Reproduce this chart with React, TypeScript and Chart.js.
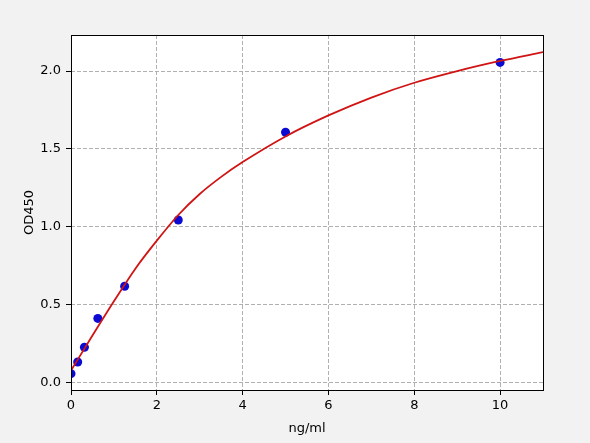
import { useEffect, useRef } from 'react'
import { Chart, registerables } from 'chart.js'

Chart.register(...registerables)

// standard points (concentration ng/ml, OD450)
const stdConc = [0, 0.156, 0.3125, 0.625, 1.25, 2.5, 5, 10]
const stdOD   = [0.055, 0.13, 0.225, 0.41, 0.617, 1.043, 1.607, 2.056]

// fitted curve
const fitX = [0, 0.5, 1, 1.5, 2, 2.5, 3, 3.5, 4, 5, 6, 7, 8, 9, 10, 11]
const fitY = [0.075, 0.3, 0.52, 0.73, 0.91, 1.075, 1.21, 1.32, 1.415, 1.58, 1.715, 1.83, 1.925, 2.0, 2.065, 2.122]

const xTicks = [0, 2, 4, 6, 8, 10]
const yTicks = [0, 0.5, 1, 1.5, 2]

const FONT = 'DejaVu Sans'

// grey page, white plot area + black frame (matplotlib style spines)
const framePlugin = {
  id: 'frame',
  beforeDraw(chart: Chart) {
    const { ctx, chartArea: a } = chart
    ctx.save()
    ctx.fillStyle = '#f2f2f2'
    ctx.fillRect(0, 0, chart.width, chart.height)
    ctx.fillStyle = '#ffffff'
    ctx.fillRect(a.left, a.top, a.right - a.left, a.bottom - a.top)
    ctx.restore()
  },
  afterDraw(chart: Chart) {
    const { ctx, chartArea: a } = chart
    ctx.save()
    ctx.strokeStyle = '#000'
    ctx.lineWidth = 1
    ctx.strokeRect(a.left + 0.5, a.top + 0.5, a.right - a.left, a.bottom - a.top)
    ctx.restore()
  },
}

export default function App() {
  const ref   = useRef<HTMLCanvasElement>(null)
  const chart = useRef<Chart | null>(null)

  useEffect(() => {
    document.body.style.margin = '0'
    document.body.style.background = '#f2f2f2'
    if (!ref.current) return
    chart.current?.destroy()
    const grid = { color: '#b0b0b0', lineWidth: 1, tickColor: '#000', tickLength: 5, tickBorderDash: [] as number[] }
    chart.current = new Chart(ref.current, {
      type: 'scatter',
      data: {
        datasets: [
          {
            type: 'line',
            data: fitX.map((x, i) => ({ x, y: fitY[i] })),
            borderColor: '#d01414', borderWidth: 1.8,
            pointRadius: 0, cubicInterpolationMode: 'monotone', fill: false,
          },
          {
            type: 'scatter',
            data: stdConc.map((x, i) => ({ x, y: stdOD[i] })),
            backgroundColor: '#0a0ad2', borderColor: '#0a0ad2',
            pointRadius: 4.5, borderWidth: 0,
          },
        ],
      },
      options: {
        responsive: false, animation: false, devicePixelRatio: 1,
        layout: { padding: { top: 35, right: 47, left: 0, bottom: 0 } },
        plugins: { legend: { display: false }, tooltip: { enabled: false } },
        scales: {
          x: {
            type: 'linear', min: 0, max: 11,
            afterBuildTicks: ax => { ax.ticks = xTicks.map(value => ({ value })) },
            afterFit: s => { s.height = 53 },
            ticks: { color: '#000', font: { family: FONT, size: 13 }, padding: 3, maxRotation: 0 },
            grid,
            border: { display: false, dash: [4, 2] },
            title: { display: true, text: 'ng/ml', color: '#000', font: { family: FONT, size: 13 }, padding: { top: 0, bottom: 7 } },
          },
          y: {
            type: 'linear', min: -0.05, max: 2.232,
            afterBuildTicks: ax => { ax.ticks = yTicks.map(value => ({ value })) },
            afterFit: s => { s.width = 71 },
            ticks: { color: '#000', font: { family: FONT, size: 13 }, padding: 5, callback: v => (+v).toFixed(1) },
            grid,
            border: { display: false, dash: [4, 2] },
            title: { display: true, text: 'OD450', color: '#000', font: { family: FONT, size: 13 }, padding: { top: 22, bottom: 0 } },
          },
        },
      },
      plugins: [framePlugin],
    })
    return () => { chart.current?.destroy() }
  }, [])

  return (
    <div style={{ width: 590, height: 443, background: '#f2f2f2' }}>
      <canvas ref={ref} width={590} height={443} />
    </div>
  )
}
